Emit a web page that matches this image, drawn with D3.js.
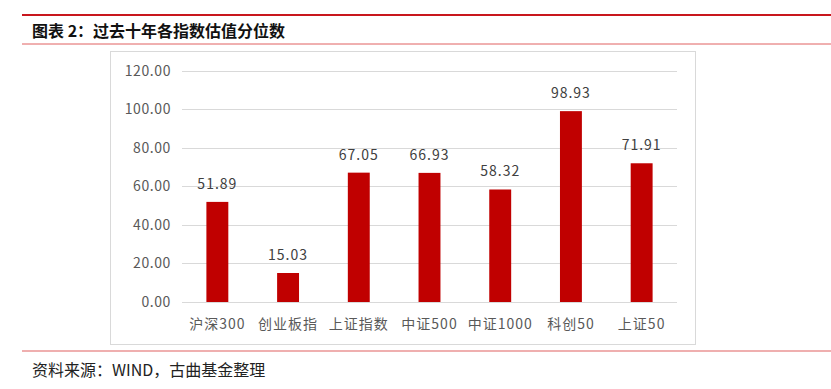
<!DOCTYPE html>
<html lang="zh">
<head>
<meta charset="utf-8">
<script src="https://d3js.org/d3.v7.min.js"></script>
<style>
    body { margin: 0; background: #fff; }
    svg text { font-family: "Noto Sans CJK SC", "Noto Sans", sans-serif; }
</style>
</head>
<body>
<div id="chart"></div>
<script>
    var categories = ["沪深300", "创业板指", "上证指数", "中证500", "中证1000", "科创50", "上证50"];
    var values = [51.89, 15.03, 67.05, 66.93, 58.32, 98.93, 71.91];
    var yTicks = [0, 20, 40, 60, 80, 100, 120];

    var W = 831, H = 389;
    var svg = d3.select("#chart").append("svg")
        .attr("width", W)
        .attr("height", H);

    // header lines + title
    svg.append("line")
        .attr("x1", 22).attr("x2", W).attr("y1", 15).attr("y2", 15)
        .attr("stroke", "#c8161d").attr("stroke-width", 2);
    svg.append("text")
        .attr("x", 32).attr("y", 37)
        .attr("font-size", 16).attr("font-weight", "bold").attr("fill", "#111")
        .text("图表 2：过去十年各指数估值分位数");
    svg.append("line")
        .attr("x1", 22).attr("x2", W).attr("y1", 44).attr("y2", 44)
        .attr("stroke", "#e06060").attr("stroke-width", 1);

    // chart frame
    svg.append("rect")
        .attr("x", 110.5).attr("y", 51.5).attr("width", 585).attr("height", 293)
        .attr("fill", "#fff").attr("stroke", "#d9d9d9");

    var x = d3.scaleBand()
        .domain(categories)
        .range([182, 677])
        .paddingInner(0.69)
        .paddingOuter(0.345);

    var y = d3.scaleLinear()
        .domain([0, 120])
        .range([302, 70.5]);

    // gridlines
    svg.append("g")
        .selectAll("line")
        .data(yTicks)
        .enter().append("line")
        .attr("x1", 182).attr("x2", 677)
        .attr("y1", function (d) { return Math.round(y(d)) + 0.5; })
        .attr("y2", function (d) { return Math.round(y(d)) + 0.5; })
        .attr("stroke", "#d9d9d9").attr("stroke-width", 1);

    // y axis labels
    svg.append("g")
        .selectAll("text")
        .data(yTicks)
        .enter().append("text")
        .attr("x", 171)
        .attr("y", function (d) { return y(d) + 5; })
        .attr("text-anchor", "end")
        .attr("font-size", 14).attr("fill", "#595959")
        .attr("letter-spacing", 0.6)
        .text(function (d) { return d3.format(".2f")(d); });

    // bars
    svg.append("g")
        .selectAll("rect")
        .data(values)
        .enter().append("rect")
        .attr("x", function (d, i) { return x(categories[i]); })
        .attr("y", function (d) { return y(d); })
        .attr("width", x.bandwidth())
        .attr("height", function (d) { return y(0) - y(d); })
        .attr("fill", "#c00000");

    // value labels
    svg.append("g")
        .selectAll("text")
        .data(values)
        .enter().append("text")
        .attr("x", function (d, i) { return x(categories[i]) + x.bandwidth() / 2; })
        .attr("y", function (d) { return y(d) - 13; })
        .attr("text-anchor", "middle")
        .attr("font-size", 14).attr("fill", "#404040")
        .attr("letter-spacing", 1)
        .text(function (d) { return d3.format(".2f")(d); });

    // category labels
    svg.append("g")
        .selectAll("text")
        .data(categories)
        .enter().append("text")
        .attr("x", function (d) { return x(d) + x.bandwidth() / 2; })
        .attr("y", 329)
        .attr("text-anchor", "middle")
        .attr("font-size", 14).attr("fill", "#595959")
        .attr("letter-spacing", 1)
        .text(function (d) { return d; });

    // footer
    svg.append("line")
        .attr("x1", 22).attr("x2", W).attr("y1", 351).attr("y2", 351)
        .attr("stroke", "#e06060").attr("stroke-width", 1.2);
    svg.append("text")
        .attr("x", 32).attr("y", 376)
        .attr("font-size", 16).attr("fill", "#222")
        .text("资料来源：WIND，古曲基金整理");
</script>
</body>
</html>
